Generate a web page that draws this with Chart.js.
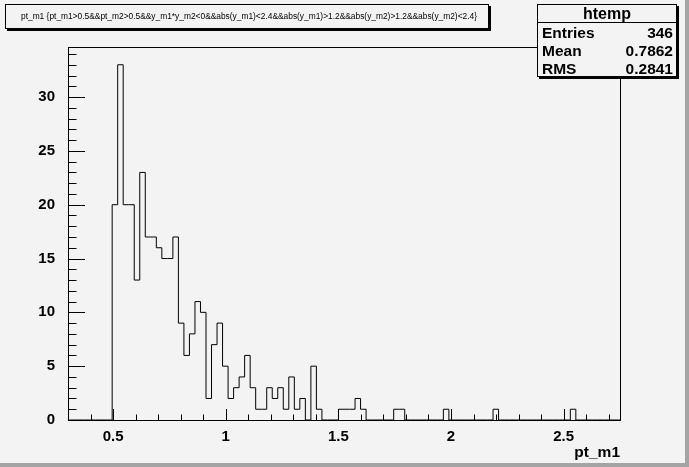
<!DOCTYPE html>
<html>
<head>
<meta charset="utf-8">
<script src="https://cdn.jsdelivr.net/npm/chart.js@4.4.1/dist/chart.umd.min.js"></script>
<style>
  html, body { margin: 0; padding: 0; background: #f3f3f3; }
  #wrap { position: relative; width: 689px; height: 467px; overflow: hidden;
          font-family: "Liberation Sans", Arial, sans-serif; }
  #wrap canvas { position: absolute; left: 0; top: 0; }
  .pave { position: absolute; background: #f3f3f3; border: 1px solid #000;
          box-shadow: 2px 2px 0 #000; box-sizing: border-box; }
  #title { left: 5px; top: 4px; width: 484px; height: 25px; }
  #title span { position: absolute; left: 15px; top: 6px; white-space: nowrap; color: #000; }
  #stats { left: 537px; top: 4px; width: 140px; height: 73px; }
  #stats .hdr { position: absolute; left: 0; right: 0; top: 0; height: 17px; border-bottom: 1px solid #000;
                text-align: center; font-weight: bold; font-size: 16px; line-height: 18px; }
  #stats .row { position: absolute; left: 4px; right: 3px; height: 18px; font-weight: bold;
                font-size: 15.5px; line-height: 18px; }
  #stats .row b { position: absolute; right: 0; top: 0; }
  .edge { position: absolute; background: #a4a4a4; }
</style>
</head>
<body>
<div id="wrap">
  <canvas id="hist" width="689" height="467"></canvas>
  <div class="pave" id="title"><span id="titleText">pt_m1 {pt_m1&gt;0.5&amp;&amp;pt_m2&gt;0.5&amp;&amp;y_m1*y_m2&lt;0&amp;&amp;abs(y_m1)&lt;2.4&amp;&amp;abs(y_m1)&gt;1.2&amp;&amp;abs(y_m2)&gt;1.2&amp;&amp;abs(y_m2)&lt;2.4}</span></div>
  <div class="pave" id="stats">
    <div class="hdr">htemp</div>
    <div class="row" style="top:19px">Entries<b>346</b></div>
    <div class="row" style="top:37px">Mean<b>0.7862</b></div>
    <div class="row" style="top:55px">RMS<b>0.2841</b></div>
  </div>
  <div class="edge" style="left:685px;top:0;width:4px;height:467px"></div>
  <div class="edge" style="left:0;top:463px;width:689px;height:4px"></div>
</div>
<script>
// histogram definition (htemp: 100 bins on [0.3, 2.75])
const xMin = 0.3;
const xMax = 2.75;
const nBins = 100;
const yMax = 34.65;

// bin contents, bin 0 .. bin 99
const counts = [
  0, 0, 0, 0, 0, 0, 0, 0, 20, 33,
  20, 20, 13, 23, 17, 17, 16, 15, 15, 17,
  9, 6, 8, 11, 10, 2, 7, 9, 5, 2,
  3, 4, 6, 3, 1, 1, 3, 2, 3, 1,
  4, 1, 2, 0, 5, 1, 0, 0, 0, 1,
  1, 1, 2, 1, 0, 0, 0, 0, 0, 1,
  1, 0, 0, 0, 0, 0, 0, 0, 1, 0,
  0, 0, 0, 0, 0, 0, 0, 1, 0, 0,
  0, 0, 0, 0, 0, 0, 0, 0, 0, 0,
  0, 1, 0, 0, 0, 0, 0, 0, 0, 0
];

const xLabelTicks = [0.5, 1, 1.5, 2, 2.5];
const yLabelTicks = [0, 5, 10, 15, 20, 25, 30];
const xTitle = 'pt_m1';

// fit the cut string into the title box
(function () {
  const el = document.getElementById('titleText');
  let size = 10;
  el.style.fontSize = size + 'px';
  while (el.getBoundingClientRect().width > 458 && size > 6) {
    size -= 0.1;
    el.style.fontSize = size.toFixed(1) + 'px';
  }
})();

const binWidth = (xMax - xMin) / nBins;
const outline = counts.map((c, i) => ({ x: xMin + i * binWidth, y: c }));
outline.push({ x: xMax, y: 0 });

const tickFont = { family: '"Liberation Sans", Arial, sans-serif', size: 15, weight: 'bold' };

// ROOT style frame with ticks drawn inward
const rootFrame = {
  id: 'rootFrame',
  afterDraw(chart) {
    const ctx = chart.ctx;
    const a = chart.chartArea;
    const xs = chart.scales.x, ys = chart.scales.y;
    ctx.save();
    ctx.strokeStyle = '#000';
    ctx.lineWidth = 1;
    ctx.strokeRect(Math.round(a.left) + 0.5, Math.round(a.top) + 0.5,
                   Math.round(a.right - a.left), Math.round(a.bottom - a.top));
    ctx.beginPath();
    for (let i = 3; i <= 27; i++) {
      const px = Math.round(xs.getPixelForValue(i / 10)) + 0.5;
      const len = i % 5 === 0 ? 11 : 5.5;
      ctx.moveTo(px, a.bottom);
      ctx.lineTo(px, a.bottom - len);
    }
    for (let v = 0; v <= 34; v++) {
      const py = Math.round(ys.getPixelForValue(v)) + 0.5;
      const len = v % 5 === 0 ? 17 : 8.5;
      ctx.moveTo(a.left, py);
      ctx.lineTo(a.left + len, py);
    }
    ctx.stroke();
    ctx.restore();
  }
};

new Chart(document.getElementById('hist'), {
  type: 'line',
  data: {
    datasets: [{
      data: outline,
      stepped: 'before',
      borderColor: '#000',
      borderWidth: 1,
      pointRadius: 0,
      fill: false,
      tension: 0
    }]
  },
  options: {
    responsive: false,
    animation: false,
    events: [],
    layout: { padding: { top: 47, right: 69, left: 0, bottom: 0 } },
    plugins: { legend: { display: false }, tooltip: { enabled: false } },
    scales: {
      x: {
        type: 'linear',
        min: xMin,
        max: xMax,
        grid: { display: false },
        border: { display: false },
        afterBuildTicks(s) { s.ticks = xLabelTicks.map(v => ({ value: v })); },
        afterFit(s) { s.height = 47; },
        ticks: { color: '#000', font: Object.assign({ lineHeight: 1 }, tickFont), padding: 1,
                 maxRotation: 0, callback: v => String(v) },
        title: { display: true, text: xTitle, align: 'end', color: '#000',
                 font: { family: '"Liberation Sans", Arial, sans-serif', size: 15.5, weight: 'bold' },
                 padding: { top: 0, bottom: 5 } }
      },
      y: {
        type: 'linear',
        min: 0,
        max: yMax,
        grid: { display: false },
        border: { display: false },
        afterBuildTicks(s) { s.ticks = yLabelTicks.map(v => ({ value: v })); },
        afterFit(s) { s.width = 68; },
        ticks: { color: '#000', font: tickFont, padding: 5, callback: v => String(v) }
      }
    }
  },
  plugins: [rootFrame]
});
</script>
</body>
</html>
